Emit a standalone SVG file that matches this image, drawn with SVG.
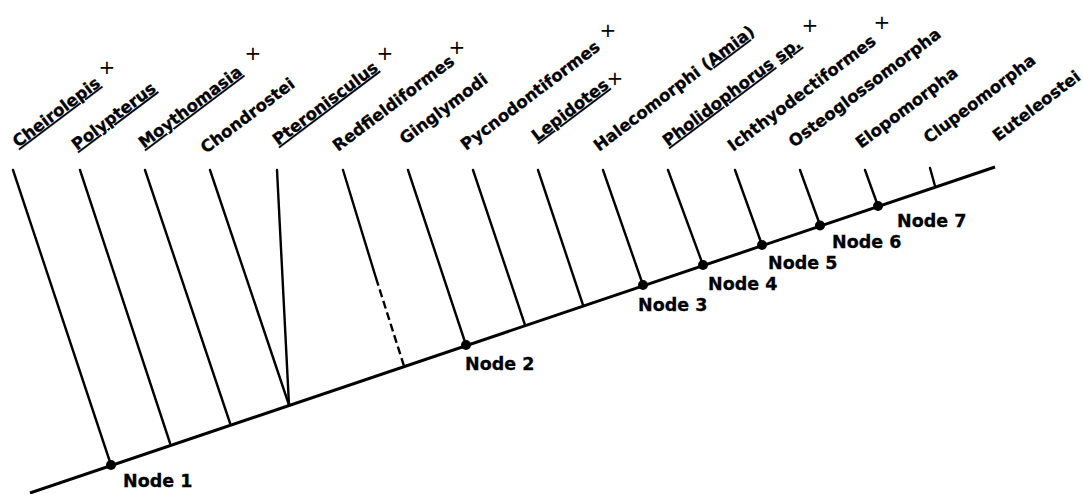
<svg xmlns="http://www.w3.org/2000/svg" width="1083" height="494" viewBox="0 0 1083 494">
  <style>
    .br { stroke: #000; stroke-width: 2.4; fill: none; stroke-linecap: round; }
    .main { stroke: #000; stroke-width: 3; fill: none; }
    .dash { stroke-dasharray: 8 4; stroke-linecap: butt; }
    .dot { fill: #000; }
    .taxon { font-family: "DejaVu Sans", Verdana, sans-serif; font-weight: bold; font-size: 16.5px; fill: #000; stroke: #000; stroke-width: 0.3; }
    .u { text-decoration: underline; }
    .ext { font-family: "DejaVu Sans", sans-serif; font-size: 20px; fill: #000; text-anchor: middle; }
    .nlab { font-family: "DejaVu Sans", Verdana, sans-serif; font-weight: bold; font-size: 17.5px; fill: #000; stroke: #000; stroke-width: 0.3; }
  </style>

  <!-- connectors: backbone and branches -->
  <g id="connectors">
    <line class="main" x1="30" y1="493" x2="995" y2="167"/>
    <line class="br" x1="13" y1="170" x2="111" y2="465"/>
    <line class="br" x1="80" y1="170" x2="170" y2="443"/>
    <line class="br" x1="145" y1="170" x2="230" y2="423"/>
    <line class="br" x1="210" y1="170" x2="289" y2="405"/>
    <line class="br" x1="277" y1="170" x2="289" y2="405"/>
    <line class="br" x1="343" y1="170" x2="376" y2="278"/>
    <line class="br dash" x1="376" y1="278" x2="404" y2="366"/>
    <line class="br" x1="408" y1="170" x2="466" y2="345"/>
    <line class="br" x1="473" y1="170" x2="525" y2="325"/>
    <line class="br" x1="538" y1="170" x2="583" y2="305"/>
    <line class="br" x1="603" y1="170" x2="643" y2="285"/>
    <line class="br" x1="668" y1="170" x2="703" y2="265"/>
    <line class="br" x1="735" y1="170" x2="762" y2="245"/>
    <line class="br" x1="800" y1="170" x2="820" y2="225"/>
    <line class="br" x1="865" y1="170" x2="878" y2="206"/>
    <line class="br" x1="930" y1="168" x2="935" y2="186"/>
  </g>

  <!-- internal nodes -->
  <g id="node1"><circle class="dot" cx="111" cy="465" r="5"/><text class="nlab" x="123" y="487">Node 1</text></g>
  <g id="node2"><circle class="dot" cx="466" cy="345" r="5"/><text class="nlab" x="465" y="370">Node 2</text></g>
  <g id="node3"><circle class="dot" cx="643" cy="285" r="5"/><text class="nlab" x="638" y="311">Node 3</text></g>
  <g id="node4"><circle class="dot" cx="703" cy="265" r="5"/><text class="nlab" x="708" y="290">Node 4</text></g>
  <g id="node5"><circle class="dot" cx="762" cy="245" r="5"/><text class="nlab" x="768" y="269">Node 5</text></g>
  <g id="node6"><circle class="dot" cx="820" cy="225.5" r="5"/><text class="nlab" x="832" y="248">Node 6</text></g>
  <g id="node7"><circle class="dot" cx="878" cy="206" r="5"/><text class="nlab" x="897" y="227">Node 7</text></g>

  <!-- terminal taxa -->
  <g id="cheirolepis">
    <text class="taxon u" transform="translate(18,148) rotate(-37)">Cheirolepis</text>
    <text class="ext" x="107" y="74">+</text>
  </g>
  <g id="polypterus">
    <text class="taxon u" transform="translate(77,151) rotate(-37)">Polypterus</text>
  </g>
  <g id="moythomasia">
    <text class="taxon u" transform="translate(144,149) rotate(-37)">Moythomasia</text>
    <text class="ext" x="253" y="60">+</text>
  </g>
  <g id="chondrostei">
    <text class="taxon" transform="translate(206,154) rotate(-37)">Chondrostei</text>
  </g>
  <g id="pteronisculus">
    <text class="taxon u" transform="translate(278,146) rotate(-37)">Pteronisculus</text>
    <text class="ext" x="385" y="60">+</text>
  </g>
  <g id="redfieldiformes">
    <text class="taxon" transform="translate(338,152) rotate(-37)">Redfieldiformes</text>
    <text class="ext" x="457" y="54">+</text>
  </g>
  <g id="ginglymodi">
    <text class="taxon" transform="translate(405,145) rotate(-37)">Ginglymodi</text>
  </g>
  <g id="pycnodontiformes">
    <text class="taxon" transform="translate(466,151) rotate(-37)">Pycnodontiformes</text>
    <text class="ext" x="608" y="37">+</text>
  </g>
  <g id="lepidotes">
    <text class="taxon u" transform="translate(537,142) rotate(-37)">Lepidotes</text>
    <text class="ext" x="615" y="85">+</text>
  </g>
  <g id="halecomorphi">
    <text class="taxon" transform="translate(599,152) rotate(-37)">Halecomorphi (<tspan class="u">Amia</tspan>)</text>
  </g>
  <g id="pholidophorus">
    <text class="taxon" transform="translate(668,147) rotate(-37)"><tspan class="u">Pholidophorus</tspan> <tspan class="u">sp.</tspan></text>
    <text class="ext" x="810" y="32">+</text>
  </g>
  <g id="ichthyodectiformes">
    <text class="taxon" transform="translate(733,152) rotate(-37)">Ichthyodectiformes</text>
    <text class="ext" x="882" y="29">+</text>
  </g>
  <g id="osteoglossomorpha">
    <text class="taxon" transform="translate(794,148) rotate(-37)">Osteoglossomorpha</text>
  </g>
  <g id="elopomorpha">
    <text class="taxon" transform="translate(861,149) rotate(-37)">Elopomorpha</text>
  </g>
  <g id="clupeomorpha">
    <text class="taxon" transform="translate(929,144) rotate(-37)">Clupeomorpha</text>
  </g>
  <g id="euteleostei">
    <text class="taxon" transform="translate(998,142) rotate(-37)">Euteleostei</text>
  </g>
</svg>
